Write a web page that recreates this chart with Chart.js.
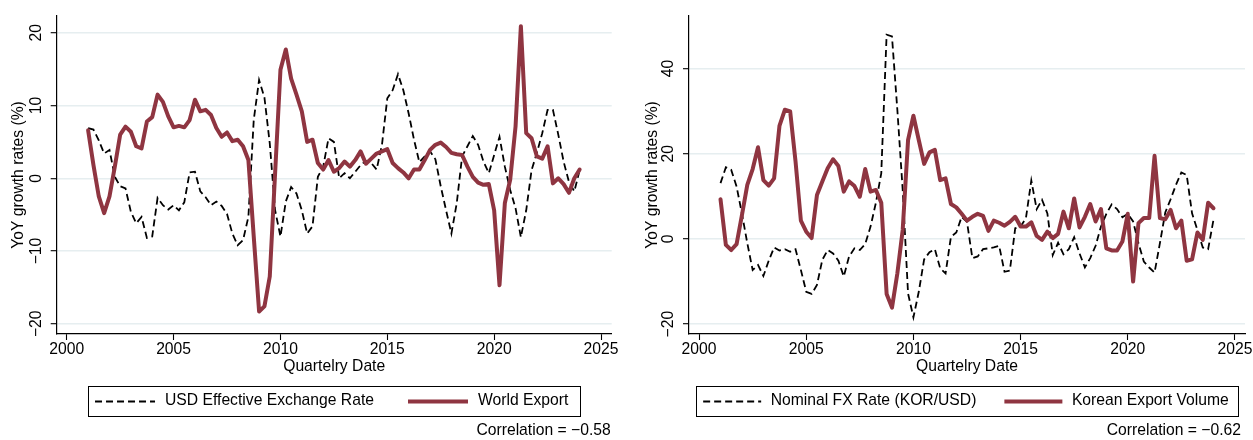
<!DOCTYPE html>
<html>
<head>
<meta charset="utf-8">
<title>Exchange rates and exports</title>
<script src="https://cdn.jsdelivr.net/npm/chart.js@4/dist/chart.umd.min.js"></script>
<style>
  html, body { margin: 0; padding: 0; background: #fff; }
  #wrap { position: relative; width: 1253px; height: 440px; overflow: hidden; }
  #c1 { position: absolute; left: 0; top: 0; }
  #c2 { position: absolute; left: 634px; top: 0; }
</style>
</head>
<body>
<div id="wrap">
  <canvas id="c1" width="634" height="440"></canvas>
  <canvas id="c2" width="619" height="440"></canvas>
</div>
<script>
// Quarterly observations, 2001q1 .. 2024q1
const firstYear = 2001;
const quarterCount = 93;
const quarterLabels = [];
for (let i = 0; i < quarterCount; i++) {
  quarterLabels.push((firstYear + Math.floor(i / 4)) + 'q' + (i % 4 + 1));
}
// position of a quarter on the date axis (year + fraction)
const quarterPos = quarterLabels.map(q => {
  const [y, n] = q.split('q');
  return Number(y) + (Number(n) - 1) / 4;
});

// Panel 1: USD effective exchange rate vs world export, YoY %
const usdEffectiveRate = [
  6.9, 6.7, 5.2, 3.4, 3.9, 0.2, -1.1, -1.4, -4.6, -6.2,
  -5.3, -8.2, -8.0, -2.7, -3.7, -4.3, -3.7, -4.4, -3.3, 0.8,
  0.9, -1.8, -2.6, -3.7, -3.2, -3.8, -4.9, -7.6, -9.2, -8.5,
  -5.3, 8.0, 13.5, 11.1, 4.8, -4.4, -8.0, -3.2, -1.2, -2.1,
  -4.4, -7.6, -6.6, 0.2, 1.6, 5.5, 5.0, 0.0, 0.7, 0.0,
  0.9, 1.8, 2.4, 2.1, 1.2, 4.6, 11.0, 12.1, 14.3, 12.1,
  8.9, 5.3, 2.2, 3.0, 3.7, 2.6, -1.1, -4.4, -7.6, -3.4,
  3.0, 4.4, 5.8, 4.6, 2.3, 0.7, 3.2, 5.7, 1.6, -1.6,
  -4.1, -8.1, -4.4, 1.1, 3.5, 6.2, 9.4, 9.4, 6.0, 2.3,
  -0.5, -1.8, 1.1
];
const worldExport = [
  6.6, 1.8, -2.5, -4.8, -2.5, 1.6, 6.0, 7.1, 6.4, 4.4,
  4.1, 7.8, 8.4, 11.5, 10.5, 8.5, 7.0, 7.2, 7.0, 8.0,
  10.8, 9.2, 9.4, 8.7, 6.9, 5.7, 6.3, 5.1, 5.3, 4.4,
  2.5, -8.0, -18.3, -17.6, -13.5, 0.7, 14.9, 17.7, 13.7, 11.5,
  9.2, 5.0, 5.3, 2.1, 1.2, 2.5, 0.9, 1.4, 2.3, 1.6,
  2.5, 3.7, 2.0, 2.7, 3.4, 3.7, 4.0, 2.1, 1.4, 0.8,
  0.0, 1.2, 1.2, 2.5, 3.9, 4.6, 4.9, 4.3, 3.5, 3.3,
  3.2, 1.6, 0.2, -0.6, -0.9, -0.8, -4.4, -14.7, -3.4, -0.2,
  7.1, 20.9, 6.2, 5.5, 3.0, 2.7, 4.4, -0.7, 0.0, -0.8,
  -2.0, 0.0, 1.2
];

// Panel 2: KRW/USD nominal rate vs Korean export volume, YoY %
const nominalFxKorUsd = [
  13.1, 16.8, 16.2, 12.3, 5.9, -1.0, -7.3, -6.1, -8.7, -5.1,
  -2.0, -2.7, -2.4, -3.0, -2.4, -7.3, -12.4, -12.9, -10.8, -4.9,
  -2.6, -3.4, -5.1, -8.8, -4.1, -2.2, -2.6, -1.2, 2.9, 8.5,
  15.4, 47.9, 47.5, 30.3, 11.5, -12.8, -18.4, -12.4, -4.8, -3.1,
  -2.4, -6.9, -8.1, 0.5, 1.5, 5.2, 4.0, -4.5, -4.1, -2.4,
  -2.2, -2.0, -1.6, -7.7, -7.4, 2.5, 2.9, 4.9, 13.7, 7.0,
  9.2, 6.0, -3.8, -0.9, -3.6, -2.4, 0.4, -3.4, -6.7, -4.5,
  -1.6, 2.9, 5.9, 8.1, 7.0, 5.1, 5.9, 4.1, -1.0, -5.3,
  -6.7, -7.9, -1.0, 6.2, 9.3, 12.7, 15.6, 15.0, 6.0, 2.1,
  -2.0, -2.4, 4.5
];
const koreanExportVolume = [
  9.3, -1.4, -2.6, -1.2, 5.6, 12.7, 16.4, 21.5, 13.8, 12.5,
  14.2, 26.5, 30.3, 29.9, 18.2, 4.3, 1.7, 0.2, 10.3, 13.5,
  16.6, 18.7, 17.1, 11.1, 13.5, 12.4, 9.9, 16.4, 11.1, 11.5,
  8.5, -12.9, -16.1, -8.1, 2.1, 23.2, 28.9, 23.2, 17.6, 20.3,
  20.9, 13.8, 14.2, 8.2, 7.4, 5.9, 4.3, 5.2, 5.9, 5.4,
  1.9, 4.3, 3.8, 3.1, 4.0, 5.2, 2.9, 2.9, 3.9, 0.7,
  -0.2, 1.7, 0.2, 1.2, 6.4, 2.5, 9.5, 2.7, 5.2, 8.2,
  4.1, 7.0, -2.2, -2.7, -2.7, -0.6, 5.9, -10.0, 3.7, 4.9,
  4.9, 19.5, 4.9, 4.6, 6.8, 2.5, 4.3, -5.1, -4.8, 1.5,
  -0.2, 8.5, 7.2
];

// Axis ticks
const xTickValues = [2000, 2005, 2010, 2015, 2020, 2025];
const xTickLabels = ['2000', '2005', '2010', '2015', '2020', '2025'];
const yTickValues1 = [-20, -10, 0, 10, 20];
const yTickLabels1 = ['\u221220', '\u221210', '0', '10', '20'];
const yTickValues2 = [-20, 0, 20, 40];
const yTickLabels2 = ['\u221220', '0', '20', '40'];

const FONT_FAMILY = '"Liberation Sans", Arial, Helvetica, sans-serif';
const FONT_SIZE = 15.7;
const RED = '#8f3541';
const GRID = '#e6eef0';
const font = { family: FONT_FAMILY, size: FONT_SIZE };

// Boxed legend under the axis title plus a right-aligned note line
const panelLegend = {
  id: 'panelLegend',
  afterDraw(chart, args, opts) {
    const { ctx, chartArea } = chart;
    const ds = chart.data.datasets;
    ctx.save();
    ctx.font = FONT_SIZE + 'px ' + FONT_FAMILY;
    const widths = ds.map(d => ctx.measureText(d.label).width);
    const total = opts.padLeft + 2 * (opts.sample + opts.gap) + widths[0] + widths[1] + opts.itemGap + opts.padRight;
    const cx = (chartArea.left + chartArea.right) / 2;
    const left = cx - total / 2;
    ctx.strokeStyle = '#000';
    ctx.lineWidth = 1;
    ctx.setLineDash([]);
    ctx.strokeRect(Math.round(left) + 0.5, opts.boxTop + 0.5, Math.round(total), opts.boxHeight);
    let x = left + opts.padLeft;
    ds.forEach((d, i) => {
      ctx.beginPath();
      ctx.setLineDash(d.borderDash || []);
      ctx.lineWidth = d.borderWidth;
      ctx.strokeStyle = d.borderColor;
      ctx.lineCap = 'butt';
      ctx.moveTo(x, opts.lineY);
      ctx.lineTo(x + opts.sample, opts.lineY);
      ctx.stroke();
      ctx.setLineDash([]);
      x += opts.sample + opts.gap;
      ctx.fillStyle = '#000';
      ctx.textAlign = 'left';
      ctx.textBaseline = 'middle';
      ctx.fillText(d.label, x, opts.textY);
      x += widths[i] + opts.itemGap;
    });
    ctx.textAlign = 'right';
    ctx.textBaseline = 'middle';
    ctx.fillStyle = '#000';
    ctx.fillText(opts.note, chartArea.right - opts.noteInset, opts.noteY);
    ctx.restore();
  }
};

function toPoints(values) {
  return values.map((v, i) => ({ x: quarterPos[i], y: v }));
}

function makePanel(canvasId, p) {
  return new Chart(document.getElementById(canvasId), {
    type: 'line',
    data: {
      datasets: [
        {
          label: p.rateLabel,
          data: toPoints(p.rate),
          borderColor: '#000',
          borderWidth: 1.8,
          borderDash: [7, 4],
          pointRadius: 0,
          tension: 0,
          fill: false,
          order: 1
        },
        {
          label: p.exportLabel,
          data: toPoints(p.exports),
          borderColor: RED,
          borderWidth: 4,
          borderJoinStyle: 'round',
          borderCapStyle: 'round',
          pointRadius: 0,
          tension: 0,
          fill: false,
          order: 0
        }
      ]
    },
    options: {
      responsive: false,
      animation: false,
      events: [],
      layout: { padding: { top: 16, right: p.padRight, bottom: 64.1, left: 0 } },
      plugins: {
        legend: { display: false },
        tooltip: { enabled: false },
        panelLegend: p.legend
      },
      scales: {
        x: {
          type: 'linear',
          min: 1999.53,
          max: p.xMax,
          afterBuildTicks: s => { s.ticks = xTickValues.map(v => ({ value: v })); },
          afterFit: s => { s.height = 41.9; s.paddingLeft = 0; s.paddingRight = 0; },
          ticks: {
            autoSkip: false, maxRotation: 0, minRotation: 0, padding: 0,
            color: '#000', font,
            callback: (v, i) => xTickLabels[i]
          },
          grid: {
            drawOnChartArea: false, drawTicks: true, tickLength: 6,
            tickColor: '#000', tickWidth: 1.1
          },
          border: { display: true, color: '#000', width: 1.2 },
          title: {
            display: true, text: 'Quartelry Date', color: '#000', font,
            padding: { top: 0, bottom: 0 }
          }
        },
        y: {
          type: 'linear',
          min: p.yMin,
          max: p.yMax,
          afterBuildTicks: s => { s.ticks = p.yTicks.map(v => ({ value: v })); },
          afterFit: s => { s.width = p.yWidth; s.paddingTop = 0; s.paddingBottom = 0; },
          ticks: {
            autoSkip: false, minRotation: 90, maxRotation: 90, crossAlign: 'center',
            padding: 0.7, color: '#000', font,
            callback: (v, i) => p.yLabels[i]
          },
          grid: {
            color: GRID, lineWidth: 1.4, drawTicks: true, tickLength: 6,
            tickColor: '#000', tickWidth: 1.1
          },
          border: { display: true, color: '#000', width: 1.2 },
          title: {
            display: true, text: 'YoY growth rates (%)', color: '#000', font,
            padding: { top: 9.7, bottom: 0 }
          }
        }
      }
    },
    plugins: [panelLegend]
  });
}

makePanel('c1', {
  rate: usdEffectiveRate,
  exports: worldExport,
  rateLabel: 'USD Effective Exchange Rate',
  exportLabel: 'World Export',
  yMin: -21.4, yMax: 22.3,
  yTicks: yTickValues1, yLabels: yTickLabels1,
  xMax: 2025.5,
  yWidth: 56.7,
  padRight: 22.3,
  legend: {
    boxTop: 386, boxHeight: 30, lineY: 401.5, textY: 401,
    padLeft: 7, sample: 60, gap: 10, itemGap: 34, padRight: 12,
    note: 'Correlation = \u22120.58', noteInset: 1, noteY: 431
  }
});

makePanel('c2', {
  rate: nominalFxKorUsd,
  exports: koreanExportVolume,
  rateLabel: 'Nominal FX Rate (KOR/USD)',
  exportLabel: 'Korean Export Volume',
  yMin: -22.3, yMax: 52.3,
  yTicks: yTickValues2, yLabels: yTickLabels2,
  xMax: 2025.47,
  yWidth: 55,
  padRight: 8,
  legend: {
    boxTop: 386, boxHeight: 30, lineY: 401.5, textY: 401,
    padLeft: 7, sample: 58, gap: 9.5, itemGap: 28, padRight: 9,
    note: 'Correlation = \u22120.62', noteInset: 4, noteY: 431
  }
});
</script>
</body>
</html>
